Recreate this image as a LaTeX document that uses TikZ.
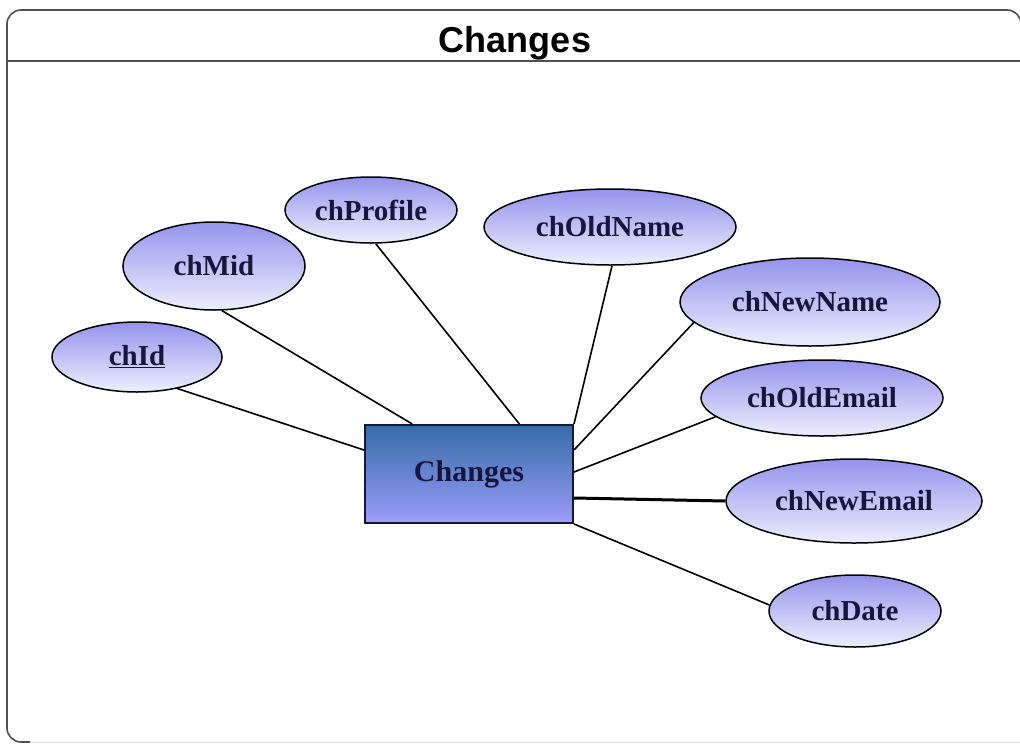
\documentclass[tikz,border=0pt]{standalone}
\usepackage{fontspec}
\setmainfont{Liberation Serif}
\newfontfamily\headfont{Liberation Sans}
\usetikzlibrary{shapes.geometric,calc}

\definecolor{attrtop}{RGB}{148,148,236}
\definecolor{attrbot}{RGB}{238,238,255}
\definecolor{enttop}{RGB}{52,108,166}
\definecolor{entbot}{RGB}{156,156,250}
\definecolor{inktext}{RGB}{22,22,60}
\definecolor{framegray}{RGB}{80,80,80}

\tikzset{
  attr/.style={ellipse, draw=black, line width=1.5pt, top color=attrtop, bottom color=attrbot,
    inner sep=0pt, text=inktext, font=\bfseries\fontsize{29}{32}\selectfont},
  entity/.style={rectangle, draw=inktext, line width=2pt, top color=enttop, bottom color=entbot,
    minimum width=208pt, minimum height=98pt, text=inktext, font=\bfseries\fontsize{30}{33}\selectfont},
  link/.style={line width=1.6pt, black},
}

\begin{document}
\begin{tikzpicture}[x=1pt,y=-1pt]
\useasboundingbox (0,0) rectangle (1020,747);
% frame and title
\draw[black!12, line width=1pt] (30,742) -- (1021,742);
\draw[framegray, line width=1.6pt, rounded corners=14pt] (30,742) -- (7,742) -- (7,10) -- (1021,10) -- (1021,760);
\draw[framegray, line width=1.6pt] (7,61) -- (1021,61);
\node[anchor=base, font=\headfont\bfseries\fontsize{36}{40}\selectfont] (title) at (515,52) {Changes};
% entity
\node[entity] (ent) at (469,474) {Changes};
% attributes
\node[attr, minimum width=170pt, minimum height=70pt] (chId) at (137,357) {\underline{chId}};
\node[attr, minimum width=182pt, minimum height=88pt] (chMid) at (214,266) {chMid};
\node[attr, minimum width=172pt, minimum height=66pt] (chProfile) at (371,210) {chProfile};
\node[attr, minimum width=252pt, minimum height=76pt] (chOldName) at (610,227) {chOldName};
\node[attr, minimum width=260pt, minimum height=88pt] (chNewName) at (810,302) {chNewName};
\node[attr, minimum width=242pt, minimum height=76pt] (chOldEmail) at (822,398) {chOldEmail};
\node[attr, minimum width=256pt, minimum height=84pt] (chNewEmail) at (854,501) {chNewEmail};
\node[attr, minimum width=172pt, minimum height=72pt] (chDate) at (855,611) {chDate};
% end points on the entity
\coordinate (pId) at ($(ent.north west)!0.26!(ent.south west)$);
\coordinate (pMid) at ($(ent.north west)!0.23!(ent.north east)$);
\coordinate (pProfile) at ($(ent.north west)!0.74!(ent.north east)$);
\coordinate (pOldName) at (ent.north east);
\coordinate (pNewName) at ($(ent.north east)!0.26!(ent.south east)$);
\coordinate (pOldEmail) at ($(ent.north east)!0.48!(ent.south east)$);
\coordinate (pNewEmail) at ($(ent.north east)!0.74!(ent.south east)$);
\coordinate (pDate) at (ent.south east);
% connectors
\draw[link] (chId.-38) -- (pId);
\draw[link] (chMid.-80) -- (pMid);
\draw[link] (chProfile.-82) -- (pProfile);
\draw[link] (chOldName.-87) -- (pOldName);
\draw[link] (chNewName.190) -- (pNewName);
\draw[link] (chOldEmail.190) -- (pOldEmail);
\draw[link, line width=3pt] (chNewEmail.west) -- (pNewEmail);
\draw[link] (chDate.176) -- (pDate);
\end{tikzpicture}
\end{document}
